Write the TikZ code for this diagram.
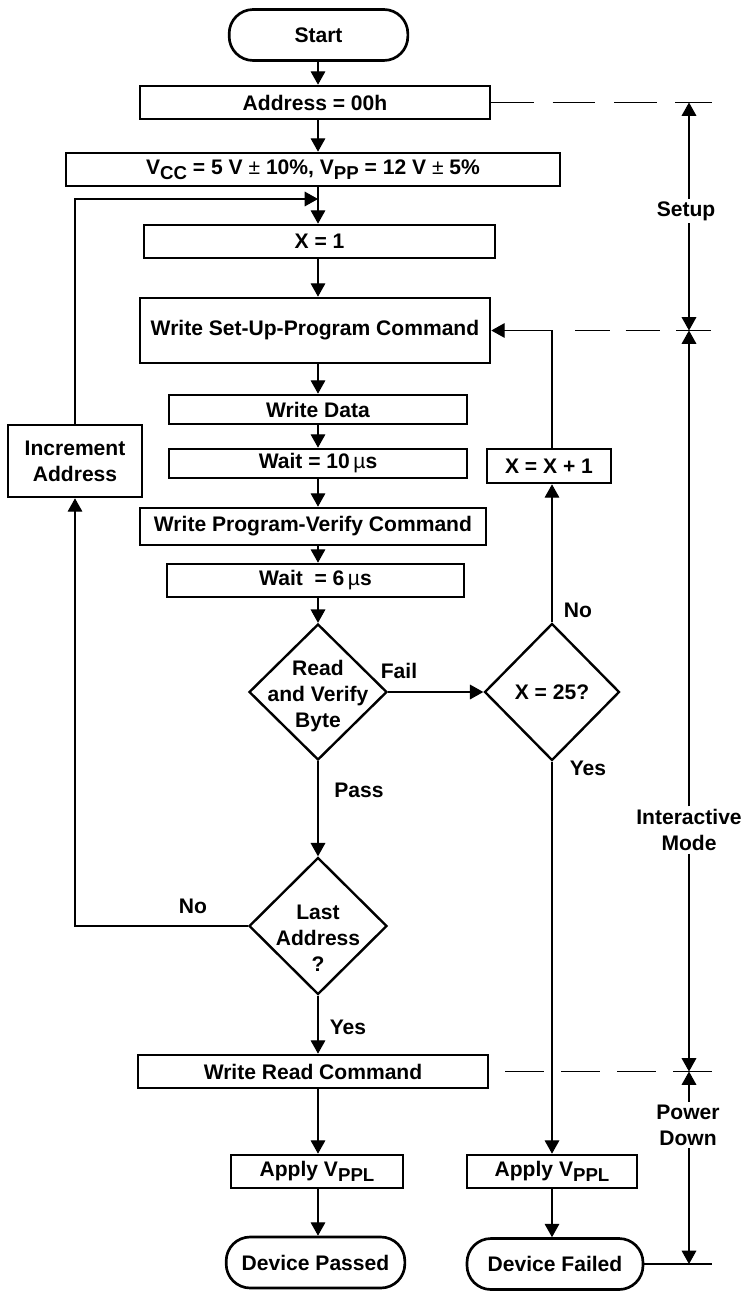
\documentclass[tikz,border=0pt]{standalone}
\usepackage{fontspec}
\setmainfont{Liberation Sans}
\usetikzlibrary{shapes.geometric, arrows.meta, positioning}
\newcommand{\subs}[1]{\raisebox{-3.5pt}{\fontsize{14}{14}\selectfont #1}}
\newcommand{\plain}[1]{{\mdseries #1}}

\begin{document}
\begin{tikzpicture}[x=0.75pt, y=-0.75pt,
  every node/.style={font=\fontsize{15.8}{19.5}\selectfont\bfseries, inner sep=2pt},
  box/.style={draw, line width=2pt, rectangle, minimum height=24.75pt},
  term/.style={draw, line width=2pt, rectangle, rounded corners=18pt, minimum width=134pt, minimum height=38.25pt},
  decision/.style={draw, line width=1.8pt, diamond, minimum width=103.5pt, minimum height=102pt, inner sep=0pt},
  flow/.style={line width=0.8pt, ->},
  dimline/.style={line width=0.8pt},
  >={Triangle[width=11pt,length=10pt]}]
\useasboundingbox (0,0) rectangle (741,1291);

% main column
\node[term] (start) at (318.5,35) {Start};
\node[box, minimum width=262.5pt] (addr) at (315,102.5) {Address = 00h};
\node[box, minimum width=370.5pt] (vcc) at (313,169.5) {V\subs{CC} = 5 V \plain{±} 10\%, V\subs{PP} = 12 V \plain{±} 5\%};
\node[box, minimum width=263.25pt] (xone) at (319.5,241.5) {X = 1};
\node[box, minimum width=262.5pt, minimum height=48.75pt] (setup) at (315,330.5) {Write Set-Up-Program Command};
\node[box, minimum width=223.5pt, minimum height=21.75pt] (wdata) at (318,409.5) {Write Data};
\node[box, minimum width=223.5pt, minimum height=21.75pt] (wait10) at (318,463.5) {Wait = 10\,\plain{µ}s};
\node[box, minimum width=259.5pt, minimum height=27.75pt] (wpv) at (313,526.5) {Write Program-Verify Command};
\node[box, minimum width=222.75pt] (wait6) at (315.5,580.5) {Wait \ = 6\,\plain{µ}s};
\node[decision, label={[align=center, yshift=-3pt]center:{Read\\and Verify\\Byte}}] (rv) at (318,692) {};
\node[decision, minimum height=102.75pt, label={[align=center, yshift=-9pt]center:{Last\\Address\\?}}] (last) at (318,926) {};
\node[box, minimum width=262.5pt] (wread) at (313,1071.5) {Write Read Command};
\node[box, minimum width=129pt] (vppl1) at (317,1171.5) {Apply V\subs{PPL}};
\node[term] (passed) at (315.5,1262.5) {Device Passed};

% side columns
\node[box, align=center, minimum width=100.5pt, minimum height=54pt] (inc) at (75,461) {Increment\\Address};
\node[box, minimum width=93pt, minimum height=25.5pt] (xinc) at (549,466) {X = X + 1};
\node[decision, minimum width=101.25pt, minimum height=102.75pt, label=center:{X = 25?}] (xmax) at (552,692) {};
\node[box, minimum width=127.5pt] (vppl2) at (552,1171.5) {Apply V\subs{PPL}};
\node[term, minimum width=132pt] (failed) at (555,1264) {Device Failed};

\coordinate (axis) at (318,0);
\coordinate (raxis) at (552,0);
\coordinate (join) at (318,199);
\coordinate (edge) at (712,0);
\coordinate (dimx) at (689,0);
\coordinate (s0) at (575,330.5);
\coordinate (r0) at (505,1071.5);

\foreach \a/\b in {start/addr, addr/vcc, vcc/xone, xone/setup, setup/wdata, wdata/wait10, wait10/wpv, wpv/wait6, wait6/rv, last/wread, wread/vppl1, vppl1/passed}
  \draw[flow] (axis |- \a.south) -- (axis |- \b.north);
\draw[flow] (rv.south) -- (last.north);
\draw[flow] (last.west) -| (inc.south);
\draw[flow] (inc.north) |- (join);
\draw[flow] (rv.east) -- (xmax.west);
\draw[flow] (xmax.north) -- (raxis |- xinc.south);
\draw[flow] (raxis |- xinc.north) |- (setup.east);
\draw[flow] (xmax.south) -- (raxis |- vppl2.north);
\draw[flow] (raxis |- vppl2.south) -- (raxis |- failed.north);

% branch labels
\node (passlbl) at (359,790) {Pass};
\node (yeslbl) at (348,1027) {Yes};
\node (faillbl) at (399,671) {Fail};
\node (nolbl) at (578,610) {No};
\node (yesxlbl) at (588,768) {Yes};
\node (noadlbl) at (193,906) {No};

% phase markers
\draw[dimline, dash pattern=on 32pt off 14pt] (addr.east) -- (edge |- addr.east);
\draw[dimline, dash pattern=on 26pt off 12pt] (s0) -- (edge |- s0);
\draw[dimline, dash pattern=on 29pt off 13pt] (r0) -- (edge |- r0);
\draw[dimline] (failed.east) -- (edge |- failed.east);

\node (setuplbl) at (686,211) {Setup};
\draw[dimline, ->] (dimx |- setuplbl.north) -- (dimx |- addr.east);
\draw[dimline, ->] (dimx |- setuplbl.south) -- (dimx |- s0);
\node[align=center] (modelbl) at (689,830) {Interactive\\Mode};
\draw[dimline, ->] (dimx |- modelbl.north) -- (dimx |- s0);
\draw[dimline, ->] (dimx |- modelbl.south) -- (dimx |- r0);
\node[align=center] (powerlbl) at (688,1125) {Power\\Down};
\draw[dimline, ->] (dimx |- powerlbl.north) -- (dimx |- r0);
\draw[dimline, ->] (dimx |- powerlbl.south) -- (dimx |- failed.east);
\end{tikzpicture}
\end{document}
